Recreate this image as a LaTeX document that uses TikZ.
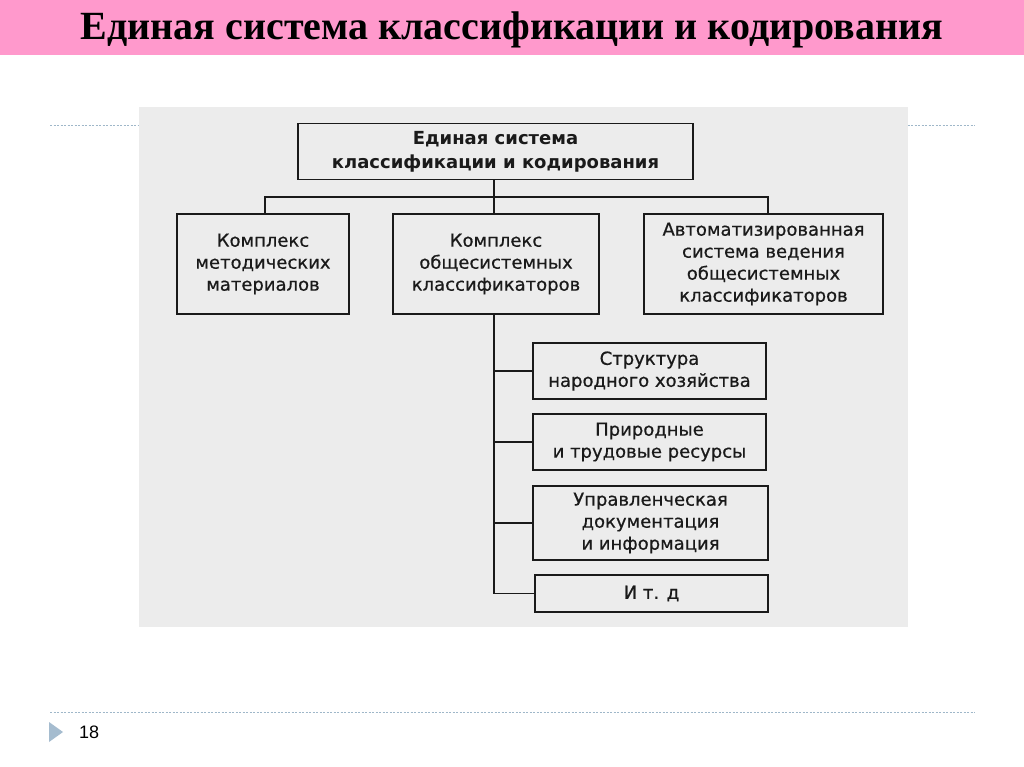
\documentclass[tikz,border=0pt]{standalone}
\usepackage{fontspec}
\setmainfont{Liberation Serif}
\newfontfamily\boxfont[FakeBold=0.6]{DejaVu Sans}
\newfontfamily\topfont{DejaVu Sans}
\newfontfamily\numfont{Liberation Sans}
\definecolor{titlepink}{HTML}{FF99CC}
\definecolor{dashblue}{HTML}{9FB7C9}
\definecolor{arrowblue}{HTML}{A5BCCF}
\definecolor{scangray}{HTML}{ECECEC}
\definecolor{inkcol}{HTML}{1A1A1A}
\begin{document}
\begin{tikzpicture}[x=1pt,y=-1pt,
  blk/.style={draw=inkcol, line width=1.5pt, fill=scangray, rectangle, inner sep=0pt,
    align=center, text=inkcol, font=\boxfont\fontsize{18}{22}\selectfont},
  conn/.style={draw=inkcol, line width=1.5pt},
  rule/.style={draw=dashblue, line width=1pt, dash pattern=on 2pt off 1.5pt}]
\useasboundingbox (0,0) rectangle (1024,767);
\fill[white] (0,0) rectangle (1024,767);
% title bar
\fill[titlepink] (0,0) rectangle (1024,55);
\node (title) at (512,30) {\fontsize{40}{44}\selectfont\bfseries Единая система классификации и кодирования};
% rules
\draw[rule] (50,126) -- (975,126);
\draw[rule] (50,712) -- (975,712);
% page marker
\fill[arrowblue] (49,722) -- (63,732) -- (49,742) -- cycle;
\node[anchor=west, inner sep=0pt] (pnum) at (79,732) {\numfont\fontsize{18}{20}\selectfont 18};
% scanned area
\fill[scangray] (139,107) rectangle (908,627);
% boxes
\node[blk, font=\topfont\bfseries\fontsize{18}{24}\selectfont, minimum width=395pt, minimum height=56pt] (top) at (495.5,151.5) {Единая система\\классификации и кодирования};
\node[blk, minimum width=172pt, minimum height=100pt] (left) at (263,264) {Комплекс\\методических\\материалов};
\node[blk, minimum width=206pt, minimum height=100pt] (mid) at (496,264) {Комплекс\\общесистемных\\классификаторов};
\node[blk, minimum width=239pt, minimum height=100pt] (right) at (763.5,264) {Автоматизированная\\система ведения\\общесистемных\\классификаторов};
\node[blk, minimum width=233pt, minimum height=56pt] (s1) at (649.5,371) {Структура\\народного хозяйства};
\node[blk, minimum width=233pt, minimum height=56pt] (s2) at (649.5,442) {Природные\\и трудовые ресурсы};
\node[blk, minimum width=235pt, minimum height=74pt] (s3) at (650.5,523) {Управленческая\\документация\\и информация};
\node[blk, minimum width=233pt, minimum height=37pt] (s4) at (651.5,593.5) {И т. д};
% connectors
\coordinate (busL) at (265,197);
\coordinate (busR) at (768,197);
\coordinate (busM) at (494,197);
\coordinate (trunkEnd) at (494,593.5);
\draw[conn] (top.south -| busM) -- (busM);
\draw[conn] (busL |- left.north) -- (busL) -- (busR) -- (busR |- right.north);
\draw[conn] (busM) -- (busM |- mid.north);
\draw[conn] (mid.south -| trunkEnd) -- (trunkEnd) -- (s4.west);
\draw[conn] (trunkEnd |- s1.west) -- (s1.west);
\draw[conn] (trunkEnd |- s2.west) -- (s2.west);
\draw[conn] (trunkEnd |- s3.west) -- (s3.west);
\end{tikzpicture}
\end{document}
